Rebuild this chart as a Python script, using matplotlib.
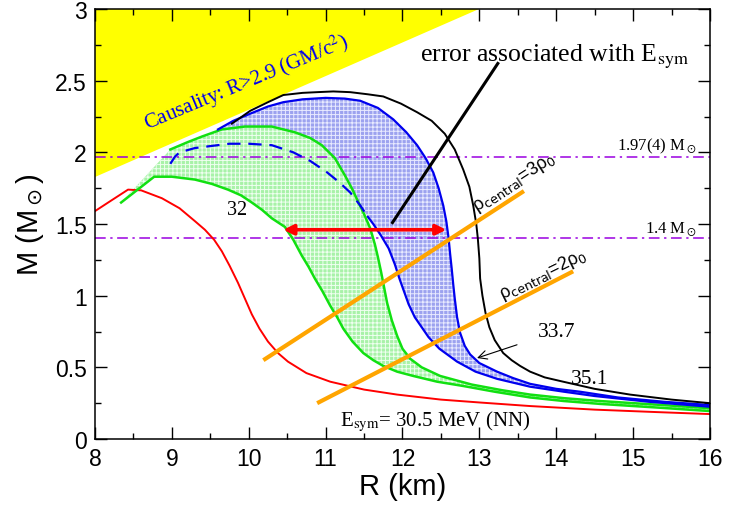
import matplotlib.pyplot as plt
import numpy as np

plt.rcParams["font.family"] = ["Liberation Sans", "DejaVu Sans"]
plt.rcParams["hatch.linewidth"] = 0.7

# causality limit (yellow region border)
caus_R = [8.0, 13.0]
caus_M = [1.83, 3.0]

# E_sym = 30.5 MeV (NN)
red_R = [8.0, 8.2, 8.43, 8.6, 8.87, 9.1, 9.3, 9.43, 9.55, 9.65, 9.75, 9.86, 9.95,
         10.04, 10.14, 10.25, 10.38, 10.51, 10.75, 11.06, 11.5, 11.93, 12.5, 13.0,
         13.66, 14.5, 15.3, 16.0]
red_M = [1.59, 1.66, 1.74, 1.735, 1.68, 1.61, 1.52, 1.46, 1.39, 1.31, 1.21, 1.09, 0.98,
         0.87, 0.77, 0.68, 0.60, 0.54, 0.46, 0.40, 0.345, 0.31, 0.275, 0.255,
         0.23, 0.205, 0.188, 0.174]

# E_sym = 32 band
g_lo_R = [8.34, 8.77, 9.0, 9.3, 9.52, 9.73, 9.9, 10.04, 10.17, 10.30, 10.47, 10.58,
          10.69, 10.78, 10.86, 10.96, 11.06, 11.15, 11.23, 11.35, 11.49, 11.62, 11.75,
          11.93, 12.14, 12.45, 12.79, 13.2, 13.66, 14.1, 14.57, 15.3, 16.0]
g_lo_M = [1.65, 1.83, 1.83, 1.81, 1.78, 1.74, 1.70, 1.65, 1.60, 1.54, 1.48, 1.39,
          1.28, 1.20, 1.12, 1.03, 0.93, 0.85, 0.77, 0.68, 0.60, 0.55, 0.51,
          0.47, 0.44, 0.40, 0.37, 0.33, 0.29, 0.265, 0.245, 0.22, 0.195]
g_hi_R = [8.98, 9.2, 9.39, 9.65, 9.95, 10.3, 10.6, 10.8, 10.95, 11.12, 11.25, 11.35,
          11.41, 11.5, 11.58, 11.64, 11.68, 11.72, 11.76, 11.80, 11.86, 11.93, 12.0,
          12.10, 12.25, 12.49, 12.9, 13.3, 13.66, 14.1, 14.57, 15.3, 16.0]
g_hi_M = [2.02, 2.07, 2.11, 2.16, 2.18, 2.18, 2.14, 2.10, 2.05, 1.96, 1.84, 1.74,
          1.67, 1.57, 1.47, 1.36, 1.27, 1.17, 1.06, 0.95, 0.83, 0.72, 0.63,
          0.56, 0.50, 0.44, 0.38, 0.34, 0.31, 0.285, 0.265, 0.24, 0.215]

# E_sym = 33.7 band
b_hi_R = [9.6, 9.8, 10.02, 10.25, 10.45, 10.7, 11.0, 11.25, 11.45, 11.68, 11.88,
          12.05, 12.19, 12.30, 12.40, 12.47, 12.53, 12.57, 12.60, 12.62, 12.64, 12.66,
          12.68, 12.71, 12.75, 12.81, 12.88, 13.0, 13.23, 13.44, 13.66, 14.0, 14.31,
          14.8, 15.4, 16.0]
b_hi_M = [2.16, 2.22, 2.27, 2.32, 2.35, 2.37, 2.38, 2.375, 2.36, 2.31, 2.23,
          2.14, 2.05, 1.96, 1.86, 1.75, 1.63, 1.52, 1.40, 1.29, 1.19, 1.08,
          0.98, 0.85, 0.74, 0.65, 0.59, 0.53, 0.47, 0.425, 0.385, 0.35, 0.33,
          0.29, 0.26, 0.237]
b_dash_R = [8.98, 9.04, 9.1, 9.3, 9.52, 9.75, 10.0, 10.3, 10.58, 10.8, 11.02, 11.18,
            11.32, 11.45, 11.55]
b_dash_M = [1.92, 1.97, 2.0, 2.03, 2.045, 2.06, 2.06, 2.05, 2.0, 1.94, 1.86, 1.79,
            1.72, 1.63, 1.55]
b_lo_R = [11.55, 11.62, 11.72, 11.82, 11.90, 11.96, 12.02, 12.08, 12.16, 12.25, 12.34,
          12.48, 12.71, 12.95, 13.23, 13.66, 14.1, 14.5, 15.2, 16.0]
b_lo_M = [1.55, 1.50, 1.42, 1.33, 1.22, 1.12, 1.03, 0.94, 0.85, 0.78, 0.71,
          0.63, 0.54, 0.47, 0.42, 0.365, 0.33, 0.30, 0.26, 0.225]

# E_sym = 35.1
k_R = [9.78, 10.02, 10.25, 10.45, 10.7, 10.89, 11.1, 11.32, 11.55, 11.75, 11.98,
       12.19, 12.38, 12.55, 12.68, 12.79, 12.87, 12.92, 12.96, 12.98, 13.0, 13.01,
       13.04, 13.08, 13.13, 13.2, 13.31, 13.42, 13.53, 13.66, 13.85, 14.09, 14.5,
       14.96, 15.5, 16.0]
k_M = [2.2, 2.29, 2.35, 2.40, 2.415, 2.42, 2.425, 2.42, 2.405, 2.39, 2.34,
       2.28, 2.22, 2.13, 2.02, 1.88, 1.76, 1.63, 1.50, 1.40, 1.26, 1.12,
       1.0, 0.88, 0.78, 0.69, 0.60, 0.55, 0.51, 0.47, 0.43, 0.40, 0.35,
       0.31, 0.275, 0.25]

# central density lines
rho3_R = [10.19, 13.58]
rho3_M = [0.55, 1.73]
rho2_R = [10.89, 14.22]
rho2_M = [0.25, 1.17]

obs_M = [1.97, 1.4]

fig = plt.figure(figsize=(7.29, 5.06), dpi=100)
ax = fig.add_axes([0.1303, 0.1304, 0.8436, 0.8498])

ax.fill([caus_R[0], caus_R[0], caus_R[1]], [caus_M[0], 3.0, caus_M[1]],
        color="#ffff00", lw=0, zorder=1)

# blue band (drawn first, green on top)
b_in_R = b_dash_R + b_lo_R[1:]
b_in_M = b_dash_M + b_lo_M[1:]
ax.fill(b_hi_R + b_in_R[::-1], b_hi_M + b_in_M[::-1], facecolor="#9ca2ef",
        edgecolor="#e8eaff", hatch="++++", lw=0, zorder=2)
ax.fill(g_hi_R + g_lo_R[::-1], g_hi_M + g_lo_M[::-1], facecolor="#a8f2a8",
        edgecolor="#effff0", hatch="++++", lw=0, zorder=3)

for m in obs_M:
    ax.axhline(m, color="#9a00e0", lw=1.1, ls=(0, (7, 3, 1.5, 3)), zorder=4)

ax.plot(red_R, red_M, color="#ff0000", lw=1.4, zorder=5)
ax.plot(g_lo_R, g_lo_M, color="#11e011", lw=1.8, zorder=5)
ax.plot(g_hi_R, g_hi_M, color="#11e011", lw=1.8, zorder=5)
ax.plot(b_hi_R, b_hi_M, color="#0000ee", lw=1.6, zorder=5)
ax.plot(b_lo_R, b_lo_M, color="#0000ee", lw=1.6, zorder=5)
ax.plot(b_dash_R, b_dash_M, color="#0000ee", lw=1.6, ls=(0, (6, 3.5)), zorder=5)
ax.plot(k_R, k_M, color="black", lw=1.4, zorder=5)
ax.plot(rho3_R, rho3_M, color="#ffa500", lw=3, solid_capstyle="butt", zorder=6)
ax.plot(rho2_R, rho2_M, color="#ffa500", lw=3, solid_capstyle="butt", zorder=6)

# annotations
serif = ["Liberation Serif", "DejaVu Serif"]
ax.text(8.68, 2.16, r"Causality: R>2.9 (GM/c$^2$)", color="#0000ee", fontsize=15,
        family=serif, math_fontfamily="stix", rotation=22.5,
        rotation_mode="anchor", ha="left", va="baseline", zorder=7)
ax.text(12.23, 2.64, r"error associated with E$_{\rm sym}$", fontsize=18.5,
        family=serif, math_fontfamily="stix", ha="left", va="baseline", zorder=7)
ax.plot([13.24, 11.87], [2.62, 1.51], color="black", lw=2.2, zorder=8)
ax.annotate("", xy=(12.57, 1.46), xytext=(10.45, 1.46),
            arrowprops=dict(arrowstyle="<|-|>", color="#ff0000", lw=2.6,
                            mutation_scale=15, shrinkA=0, shrinkB=0), zorder=8)
ax.text(15.83, 2.02, r"1.97(4) M$_\odot$", fontsize=12, family=serif,
        math_fontfamily="stix", ha="right", va="baseline", zorder=7)
ax.text(15.83, 1.45, r"1.4 M$_\odot$", fontsize=12, family=serif,
        math_fontfamily="stix", ha="right", va="baseline", zorder=7)
ax.text(12.97, 1.59, "ρ$_{\\rm central}$=3ρ$_0$", fontsize=13,
        math_fontfamily="dejavusans", rotation=33, rotation_mode="anchor",
        ha="left", va="baseline", zorder=7)
ax.text(13.3, 0.98, "ρ$_{\\rm central}$=2ρ$_0$", fontsize=13,
        math_fontfamily="dejavusans", rotation=26, rotation_mode="anchor",
        ha="left", va="baseline", zorder=7)
ax.text(9.85, 1.60, "32", fontsize=14.5, family=serif, ha="center", va="center", zorder=7)
ax.annotate("33.7", xy=(12.97, 0.565), xytext=(14.01, 0.75), fontsize=15.5,
            family=serif, ha="center", va="center",
            arrowprops=dict(arrowstyle="->", color="black", lw=0.8,
                            shrinkA=14, shrinkB=0), zorder=7)
ax.text(14.44, 0.42, "35.1", fontsize=15.5, family=serif, ha="center", va="center", zorder=7)
ax.text(11.19, 0.093, r"E$_{\rm sym}$= 30.5 MeV (NN)", fontsize=15, family=serif,
        math_fontfamily="stix", ha="left", va="baseline", zorder=7)

ax.set_xlim(8, 16)
ax.set_ylim(0, 3)
ax.set_xticks(np.arange(8, 17, 1))
ax.set_xticks(np.arange(8, 16.01, 0.5), minor=True)
ax.set_yticks(np.arange(0, 3.01, 0.5))
ax.set_yticks(np.arange(0, 3.01, 0.25), minor=True)
ax.set_yticklabels(["0", "0.5", "1", "1.5", "2", "2.5", "3"])
ax.tick_params(which="both", direction="in", top=True, right=True, labelsize=16.5,
               width=1.0)
ax.tick_params(which="major", length=8.5, pad=6)
ax.tick_params(which="minor", length=4.5)
for sp in ax.spines.values():
    sp.set_linewidth(1.1)
    sp.set_zorder(10)

ax.set_xlabel("R (km)", fontsize=21, labelpad=1)
ax.set_ylabel(r"M (M$_\odot$)", fontsize=21, labelpad=6, math_fontfamily="dejavusans")

fig.savefig("out.png", dpi=100)
